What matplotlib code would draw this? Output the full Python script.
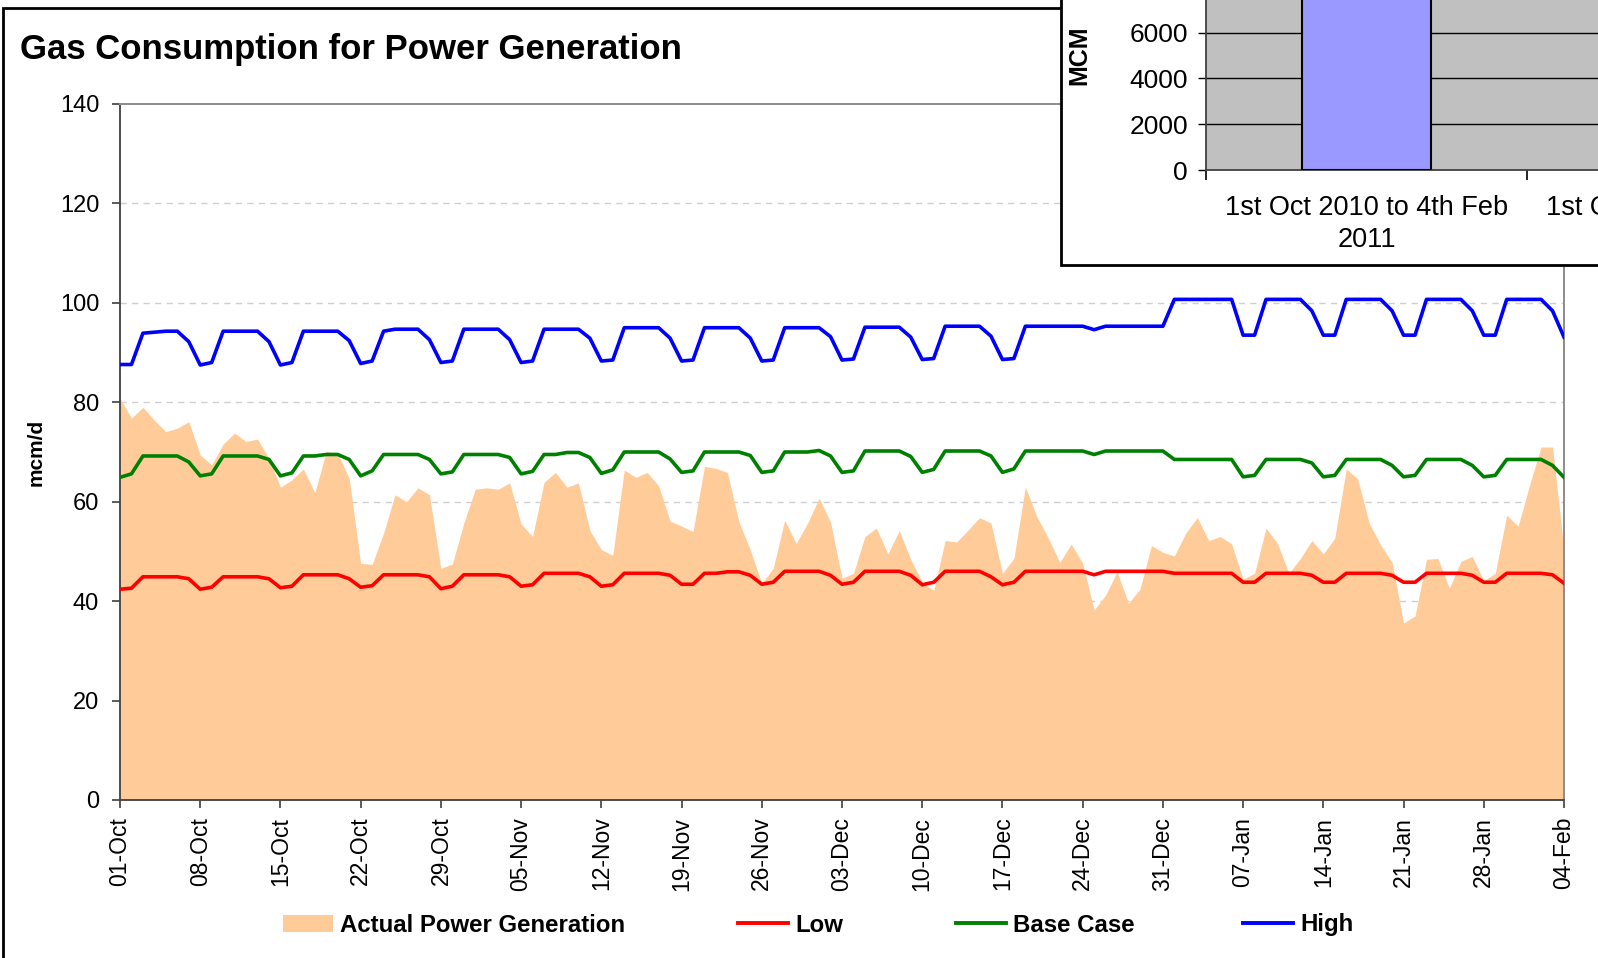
import numpy as np
import pandas as pd
import matplotlib
matplotlib.use("Agg")
import matplotlib.pyplot as plt
from matplotlib.patches import Rectangle, Patch
from matplotlib.lines import Line2D

plt.rcParams['font.family'] = ['Liberation Sans', 'DejaVu Sans']

# ---------------- data ----------------
dates = pd.date_range("2010-10-01", "2011-02-04", freq="D")

actual = [80.8, 76.8, 79.0, 76.4, 74.1, 74.8, 76.1, 69.4, 67.4, 71.6,
          73.8, 72.1, 72.6, 68.7, 62.9, 64.4, 66.6, 61.8, 70.1, 69.7,
          64.7, 47.6, 47.4, 53.7, 61.4, 60.0, 62.8, 61.4, 46.6, 47.5,
          55.7, 62.5, 62.8, 62.5, 63.8, 55.5, 53.0, 63.9, 65.9, 62.9,
          63.8, 54.2, 50.4, 49.2, 66.4, 64.9, 65.9, 63.2, 56.1, 55.1,
          54.0, 67.1, 66.7, 65.9, 56.0, 50.3, 43.6, 46.6, 56.3, 51.6,
          55.7, 60.7, 55.9, 44.6, 45.6, 53.0, 54.7, 49.5, 54.2, 48.4,
          43.9, 42.1, 52.2, 51.9, 54.3, 56.8, 55.7, 45.6, 48.6, 63.0,
          57.0, 52.7, 47.8, 51.5, 47.6, 38.2, 41.2, 45.9, 39.6, 42.4,
          51.2, 49.8, 49.1, 53.7, 56.8, 52.2, 53.0, 51.5, 44.4, 45.6,
          54.7, 51.6, 45.6, 48.6, 52.2, 49.5, 52.7, 66.6, 64.6, 55.7,
          51.3, 47.8, 35.6, 37.0, 48.4, 48.6, 42.6, 48.0, 49.0, 44.1,
          45.6, 57.3, 55.1, 63.4, 71.0, 71.0, 50.3]

low = [42.4, 42.6, 44.9, 44.9, 44.9, 44.9, 44.5,
       42.4, 42.8, 44.9, 44.9, 44.9, 44.9, 44.5,
       42.7, 43.0, 45.3, 45.3, 45.3, 45.3, 44.5,
       42.8, 43.1, 45.3, 45.3, 45.3, 45.3, 44.9,
       42.5, 43.0, 45.3, 45.3, 45.3, 45.3, 44.9,
       43.0, 43.3, 45.6, 45.6, 45.6, 45.6, 44.9,
       43.0, 43.3, 45.6, 45.6, 45.6, 45.6, 45.2,
       43.4, 43.4, 45.6, 45.6, 45.9, 45.9, 45.2,
       43.4, 43.8, 46.0, 46.0, 46.0, 46.0, 45.2,
       43.4, 43.8, 46.0, 46.0, 46.0, 46.0, 45.2,
       43.3, 43.8, 46.0, 46.0, 46.0, 46.0, 44.9,
       43.3, 43.8, 46.0, 46.0, 46.0, 46.0, 46.0,
       46.0, 45.3, 46.0, 46.0, 46.0, 46.0, 46.0,
       46.0, 45.6, 45.6, 45.6, 45.6, 45.6, 45.6,
       43.8, 43.8, 45.6, 45.6, 45.6, 45.6, 45.2,
       43.8, 43.8, 45.6, 45.6, 45.6, 45.6, 45.2,
       43.8, 43.8, 45.6, 45.6, 45.6, 45.6, 45.2,
       43.8, 43.8, 45.6, 45.6, 45.6, 45.6, 45.3,
       43.6]

base = [64.9, 65.6, 69.2, 69.2, 69.2, 69.2, 68.0,
        65.2, 65.6, 69.2, 69.2, 69.2, 69.2, 68.5,
        65.2, 65.8, 69.2, 69.2, 69.5, 69.5, 68.5,
        65.2, 66.2, 69.5, 69.5, 69.5, 69.5, 68.5,
        65.6, 66.0, 69.5, 69.5, 69.5, 69.5, 68.9,
        65.6, 66.1, 69.5, 69.5, 69.9, 69.9, 68.9,
        65.7, 66.4, 70.0, 70.0, 70.0, 70.0, 68.6,
        65.9, 66.2, 70.0, 70.0, 70.0, 70.0, 69.3,
        65.9, 66.2, 70.0, 70.0, 70.0, 70.3, 69.2,
        65.9, 66.2, 70.2, 70.2, 70.2, 70.2, 69.1,
        65.9, 66.5, 70.2, 70.2, 70.2, 70.2, 69.2,
        65.9, 66.6, 70.2, 70.2, 70.2, 70.2, 70.2,
        70.2, 69.5, 70.2, 70.2, 70.2, 70.2, 70.2,
        70.2, 68.5, 68.5, 68.5, 68.5, 68.5, 68.5,
        65.0, 65.3, 68.5, 68.5, 68.5, 68.5, 67.8,
        65.0, 65.3, 68.5, 68.5, 68.5, 68.5, 67.3,
        65.0, 65.3, 68.5, 68.5, 68.5, 68.5, 67.3,
        65.0, 65.3, 68.5, 68.5, 68.5, 68.5, 67.3,
        64.9]

high = [87.6, 87.6, 93.9, 94.1, 94.3, 94.3, 92.2,
        87.5, 88.0, 94.3, 94.3, 94.3, 94.3, 92.2,
        87.5, 88.0, 94.3, 94.3, 94.3, 94.3, 92.4,
        87.8, 88.3, 94.3, 94.7, 94.7, 94.7, 92.6,
        88.0, 88.3, 94.7, 94.7, 94.7, 94.7, 92.6,
        88.0, 88.3, 94.7, 94.7, 94.7, 94.7, 92.9,
        88.3, 88.5, 95.0, 95.0, 95.0, 95.0, 92.9,
        88.3, 88.5, 95.0, 95.0, 95.0, 95.0, 92.9,
        88.3, 88.5, 95.0, 95.0, 95.0, 95.0, 93.2,
        88.5, 88.7, 95.1, 95.1, 95.1, 95.1, 93.1,
        88.6, 88.8, 95.3, 95.3, 95.3, 95.3, 93.3,
        88.6, 88.8, 95.3, 95.3, 95.3, 95.3, 95.3,
        95.3, 94.6, 95.3, 95.3, 95.3, 95.3, 95.3,
        95.3, 100.7, 100.7, 100.7, 100.7, 100.7, 100.7,
        93.5, 93.5, 100.7, 100.7, 100.7, 100.7, 98.4,
        93.5, 93.5, 100.7, 100.7, 100.7, 100.7, 98.4,
        93.5, 93.5, 100.7, 100.7, 100.7, 100.7, 98.4,
        93.5, 93.5, 100.7, 100.7, 100.7, 100.7, 98.4,
        93.1]

tick_labels = ["01-Oct", "08-Oct", "15-Oct", "22-Oct", "29-Oct", "05-Nov",
               "12-Nov", "19-Nov", "26-Nov", "03-Dec", "10-Dec", "17-Dec",
               "24-Dec", "31-Dec", "07-Jan", "14-Jan", "21-Jan", "28-Jan",
               "04-Feb"]
y_ticks = [0, 20, 40, 60, 80, 100, 120, 140]

# inset bar chart (only first category visible, its top is cut off)
inset_categories = ["1st Oct 2010 to 4th Feb\n2011", "1st Oct 2009 to 4th Feb\n2010"]
inset_values = [9000]
inset_yticks = [0, 2000, 4000, 6000]

# ---------------- figure ----------------
W, H = 1598, 958
fig = plt.figure(figsize=(W / 100, H / 100), dpi=100)
fig.patch.set_facecolor("white")

def fx(px):
    return px / W

def fy(py):
    return 1 - py / H

# outer chart border (left + top visible)
fig.add_artist(Rectangle((fx(3), -0.2), 2.0, fy(8) + 0.2, transform=fig.transFigure,
                         fill=False, edgecolor="black", lw=2.0, zorder=0.5))

ax = fig.add_axes([fx(120), fy(800), fx(1564) - fx(120), fy(104) - fy(800)])
x = np.arange(len(dates))
ax.fill_between(x, 0, actual, color="#FFCC99", lw=0, zorder=1)
ax.plot(x, low, color="#FF0000", lw=2.6, zorder=3, solid_joinstyle="round")
ax.plot(x, base, color="#008000", lw=2.6, zorder=3, solid_joinstyle="round")
ax.plot(x, high, color="#0000FF", lw=2.6, zorder=3, solid_joinstyle="round")

ax.set_xlim(0, len(dates) - 1)
ax.set_ylim(0, 140)
ax.set_yticks(y_ticks)
ax.set_xticks(np.arange(0, len(dates), 7))
ax.set_xticklabels(tick_labels, rotation=90, fontsize=16.5)
ax.tick_params(axis="y", labelsize=17, length=6, width=1.2, pad=9, color="#404040")
ax.tick_params(axis="x", length=6, width=1.2, pad=6, color="#404040")
ax.set_axisbelow(True)
for yv in y_ticks[1:-1]:
    ax.axhline(yv, color="#CFCFCF", lw=1.0, linestyle=(0, (4.5, 3.8)), zorder=0.5)

for s in ["left", "bottom"]:
    ax.spines[s].set_color("#404040")
    ax.spines[s].set_linewidth(1.3)
for s in ["top", "right"]:
    ax.spines[s].set_color("#8C8C8C")
    ax.spines[s].set_linewidth(1.4)

fig.text(fx(20), fy(49), "Gas Consumption for Power Generation", fontsize=25,
         fontweight="bold", ha="left", va="center")
fig.text(fx(36), fy(452), "mcm/d", fontsize=15, fontweight="bold",
         rotation=90, ha="center", va="center")

# legend items placed individually
leg_font = dict(size=17.3, weight="bold")
items = [
    (Patch(facecolor="#FFCC99", edgecolor="none"), "Actual Power Generation", 283),
    (Line2D([], [], color="#FF0000", lw=2.8), "Low", 738),
    (Line2D([], [], color="#008000", lw=2.8), "Base Case", 956),
    (Line2D([], [], color="#0000FF", lw=2.8), "High", 1243),
]
for h, lab, px in items:
    lg = fig.legend([h], [lab], loc="center left", bbox_to_anchor=(fx(px), fy(925)),
                    bbox_transform=fig.transFigure, frameon=False, prop=leg_font,
                    borderpad=0, borderaxespad=0, handlelength=2.1, handleheight=0.72,
                    handletextpad=0.28)

# inset box
fig.add_artist(Rectangle((fx(1061), fy(265)), 1.0, 1.0, transform=fig.transFigure,
                         facecolor="white", edgecolor="black", lw=2.0, zorder=1.5))

px_per_2000 = 45.8
ymax_in = 8000
in_h = ymax_in / 2000 * px_per_2000
axi = fig.add_axes([fx(1206), fy(170), fx(1206 + 642) - fx(1206), in_h / H], zorder=2)
axi.set_facecolor("#C0C0C0")
axi.set_xlim(-0.5, 1.5)
axi.set_ylim(0, ymax_in)
axi.bar(np.arange(len(inset_values)), inset_values, width=0.4, color="#9999FF",
        edgecolor="black", lw=1.5, zorder=3)
for yv in inset_yticks[1:]:
    axi.axhline(yv, color="black", lw=1.0, zorder=1)
axi.set_yticks(inset_yticks)
axi.tick_params(axis="y", labelsize=19, length=6, width=1.0, pad=7)
axi.set_xticks(np.arange(len(inset_categories)))
axi.set_xticklabels(inset_categories, fontsize=19.5, linespacing=1.3)
axi.tick_params(axis="x", which="major", length=0, pad=18)
axi.set_xticks([-0.5, 0.5, 1.5], minor=True)
axi.tick_params(axis="x", which="minor", length=7, width=1.2)
for s in ["left", "bottom"]:
    axi.spines[s].set_color("#404040")
    axi.spines[s].set_linewidth(1.3)
for s in ["top", "right"]:
    axi.spines[s].set_visible(False)

fig.text(fx(1079), fy(55), "MCM", fontsize=18, fontweight="bold", rotation=90,
         ha="center", va="center", zorder=4)

fig.savefig("out.png", dpi=100)
